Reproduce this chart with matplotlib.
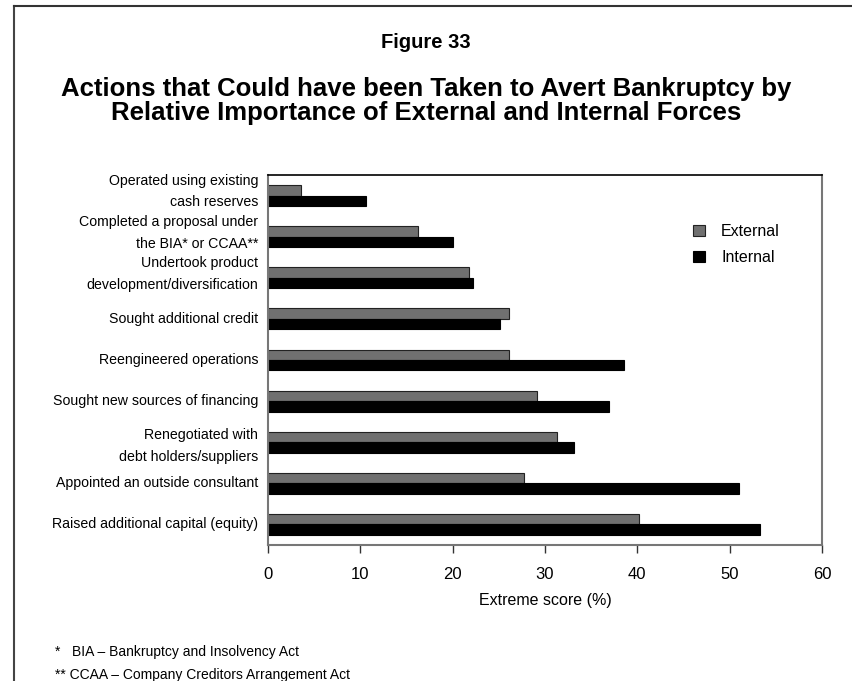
import matplotlib
matplotlib.use("Agg")
import matplotlib.pyplot as plt
import matplotlib.transforms as mtransforms
import numpy as np

categories = [
    "Operated using existing\ncash reserves",
    "Completed a proposal under\nthe BIA* or CCAA**",
    "Undertook product\ndevelopment/diversification",
    "Sought additional credit",
    "Reengineered operations",
    "Sought new sources of financing",
    "Renegotiated with\ndebt holders/suppliers",
    "Appointed an outside consultant",
    "Raised additional capital (equity)",
]
external = [3.6, 16.2, 21.8, 26.1, 26.1, 29.1, 31.3, 27.7, 40.2]
internal = [10.6, 20.0, 22.2, 25.1, 38.6, 36.9, 33.1, 51.0, 53.3]
xticks = [0, 10, 20, 30, 40, 50, 60]

font = "Liberation Sans"

W, H = 852, 681
fig = plt.figure(figsize=(W / 100, H / 100), dpi=100)
ax = fig.add_axes([268 / W, 1 - 545 / H, (822 - 268) / W, (545 - 175) / H])

y = np.arange(len(categories))
h = 0.255
ax.barh(y - h / 2, external, height=h, color="#707070", edgecolor="#222222", linewidth=0.8, label="External")
ax.barh(y + h / 2, internal, height=h, color="#000000", edgecolor="#000000", linewidth=0.8, label="Internal")

ax.set_ylim(len(categories) - 0.5, -0.5)
ax.set_xlim(0, 60)
ax.set_xticks(xticks)
ax.set_xticklabels([str(t) for t in xticks], fontsize=12, family=font)
ax.set_yticks(y)
ax.set_yticklabels(categories, fontsize=10.2, family=font, linespacing=1.7, va="center")
ax.tick_params(axis="y", length=0, pad=7)
ax.tick_params(axis="x", direction="out", length=6, width=1, pad=10, color="#333333")
# small vertical offsets (pixels) of the two-line labels, as in the original layout
label_offsets = [4, 4, 4, 0, 0, 0, -4, 0, 0]
for lab, off in zip(ax.get_yticklabels(), label_offsets):
    if off:
        lab.set_transform(lab.get_transform() +
                          mtransforms.ScaledTranslation(0, off / 100, fig.dpi_scale_trans))
for s in ["left", "bottom", "right"]:
    ax.spines[s].set_color("#777777")
    ax.spines[s].set_linewidth(1.5)
ax.spines["top"].set_color("#000000")
ax.spines["top"].set_linewidth(1.2)
ax.set_xlabel("Extreme score (%)", fontsize=11.5, family=font, labelpad=8)

leg = ax.legend(loc="upper left", bbox_to_anchor=(0.756, 0.885), frameon=False,
                prop={"family": font, "size": 11.5}, handlelength=0.75, handleheight=0.75,
                handletextpad=1.0, labelspacing=0.7, borderaxespad=0)

fig.text(0.5, 1 - 42 / H, "Figure 33", ha="center", va="center", fontsize=14.5,
         fontweight="bold", family=font)
fig.text(0.5, 1 - 101 / H,
         "Actions that Could have been Taken to Avert Bankruptcy by\nRelative Importance of External and Internal Forces",
         ha="center", va="center", fontsize=18.5, fontweight="bold", family=font,
         linespacing=0.98)

fig.text(55 / W, 1 - 652 / H, "*   BIA \u2013 Bankruptcy and Insolvency Act", fontsize=10,
         family=font, va="center")
fig.text(55 / W, 1 - 675 / H, "** CCAA \u2013 Company Creditors Arrangement Act", fontsize=10,
         family=font, va="center")

fig.add_artist(plt.Line2D([14 / W, 14 / W], [0, 1 - 6 / H], transform=fig.transFigure,
                          color="#444444", linewidth=1.5))
fig.add_artist(plt.Line2D([14 / W, 1], [1 - 6 / H, 1 - 6 / H], transform=fig.transFigure,
                          color="#333333", linewidth=1.5))

fig.savefig("out.png", dpi=100, facecolor="white")
